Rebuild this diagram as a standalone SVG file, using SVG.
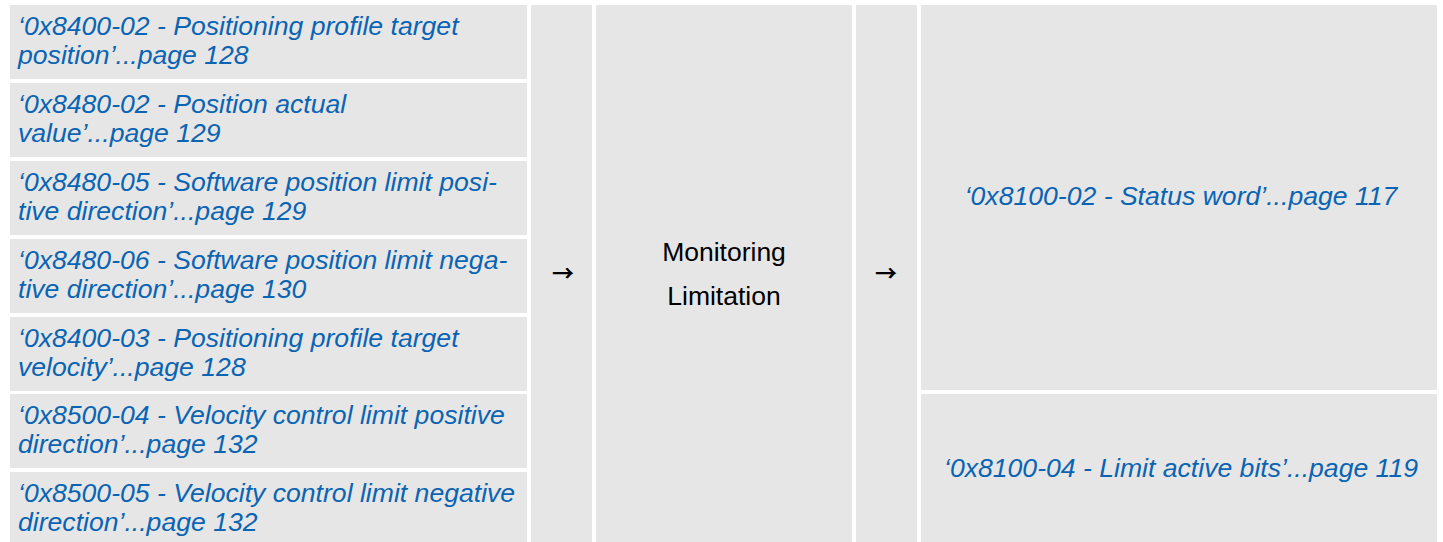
<svg xmlns="http://www.w3.org/2000/svg" width="1443" height="542" viewBox="0 0 1443 542">
<style>
.cell{fill:#e6e6e6}
.ref{font-family:"Liberation Sans",Arial,sans-serif;font-style:italic;font-size:26.6px;fill:#0a64b4}
.mid{font-family:"Liberation Sans",Arial,sans-serif;font-size:26.5px;fill:#000}
.arr{font-family:"Noto Sans CJK SC",sans-serif;font-size:22px;font-weight:bold;fill:#000}
</style>
<rect width="1443" height="542" fill="#fff"/>
<g id="in1"><rect class="cell" x="10" y="5" width="517" height="74"/><text class="ref" x="18" y="35">‘0x8400-02 - Positioning profile target</text><text class="ref" x="18" y="64">position’...page 128</text></g>
<g id="in2"><rect class="cell" x="10" y="83" width="517" height="74"/><text class="ref" x="18" y="113">‘0x8480-02 - Position actual</text><text class="ref" x="18" y="142">value’...page 129</text></g>
<g id="in3"><rect class="cell" x="10" y="161" width="517" height="74"/><text class="ref" x="18" y="191">‘0x8480-05 - Software position limit posi-</text><text class="ref" x="18" y="220">tive direction’...page 129</text></g>
<g id="in4"><rect class="cell" x="10" y="239" width="517" height="74"/><text class="ref" x="18" y="269">‘0x8480-06 - Software position limit nega-</text><text class="ref" x="18" y="298">tive direction’...page 130</text></g>
<g id="in5"><rect class="cell" x="10" y="317" width="517" height="74"/><text class="ref" x="18" y="347">‘0x8400-03 - Positioning profile target</text><text class="ref" x="18" y="376">velocity’...page 128</text></g>
<g id="in6"><rect class="cell" x="10" y="394" width="517" height="74"/><text class="ref" x="18" y="424">‘0x8500-04 - Velocity control limit positive</text><text class="ref" x="18" y="453">direction’...page 132</text></g>
<g id="in7"><rect class="cell" x="10" y="472" width="517" height="74"/><text class="ref" x="18" y="502">‘0x8500-05 - Velocity control limit negative</text><text class="ref" x="18" y="531">direction’...page 132</text></g>
<g id="connectors">
<rect class="cell" x="531" y="5" width="61" height="541"/>
<text class="arr" x="563" y="281" text-anchor="middle">→</text>
<rect class="cell" x="856" y="5" width="61" height="541"/>
<text class="arr" x="886" y="281" text-anchor="middle">→</text>
</g>
<g id="process"><rect class="cell" x="596" y="5" width="256" height="541"/><text class="mid" x="724" y="261" text-anchor="middle">Monitoring</text><text class="mid" x="724" y="305" text-anchor="middle">Limitation</text></g>
<g id="out1"><rect class="cell" x="921" y="5" width="516" height="385"/><text class="ref" x="1181" y="205" text-anchor="middle">‘0x8100-02 - Status word’...page 117</text></g>
<g id="out2"><rect class="cell" x="921" y="394" width="516" height="152"/><text class="ref" x="1181" y="477" text-anchor="middle">‘0x8100-04 - Limit active bits’...page 119</text></g>
</svg>
